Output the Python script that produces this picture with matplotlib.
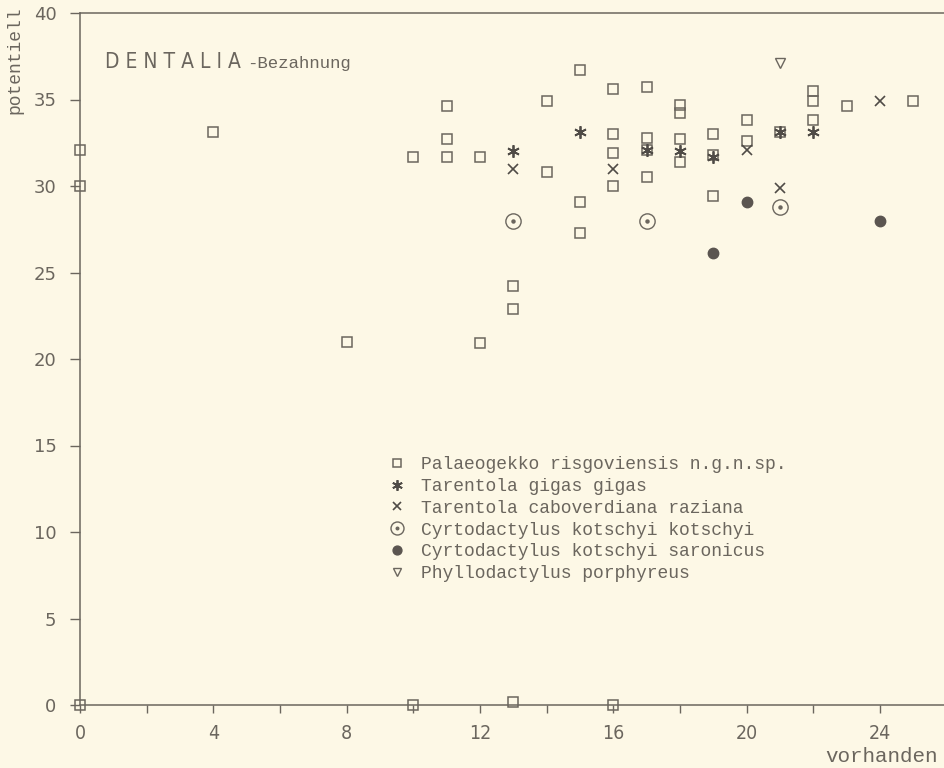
import matplotlib
matplotlib.use('Agg')
import matplotlib.pyplot as plt
from matplotlib.legend_handler import HandlerTuple

# tooth counts: x = vorhanden (present), y = potentiell (potential)
pal_x = [0, 10, 13, 16, 0, 0, 4, 8, 10, 11, 11, 11, 12, 12, 13, 13, 14, 14,
         15, 15, 15, 16, 16, 16, 16, 17, 17, 17, 17, 18, 18, 18, 18,
         19, 19, 19, 20, 20, 21, 22, 22, 22, 23, 25]
pal_y = [0, 0, 0.2, 0, 30.0, 32.1, 33.1, 21.0, 31.7, 34.6, 32.7, 31.7, 31.7, 20.9,
         24.2, 22.9, 34.9, 30.8, 36.7, 29.1, 27.3, 35.6, 33.0, 31.9, 30.0,
         35.7, 32.8, 32.1, 30.5, 34.7, 34.2, 32.7, 31.4,
         33.0, 31.8, 29.4, 33.8, 32.6, 33.1, 35.5, 34.9, 33.8, 34.6, 34.9]

gigas_x = [13, 15, 17, 18, 19, 21, 22]
gigas_y = [32.0, 33.1, 32.1, 32.0, 31.7, 33.1, 33.1]

cabo_x = [13, 16, 20, 21, 24]
cabo_y = [31.0, 31.0, 32.1, 29.9, 34.9]

kot_x = [13, 17, 21]
kot_y = [28.0, 28.0, 28.8]

saron_x = [19, 20, 24]
saron_y = [26.1, 29.1, 28.0]

phyl_x = [21]
phyl_y = [37.1]

labels = ['Palaeogekko risgoviensis n.g.n.sp.',
          'Tarentola gigas gigas',
          'Tarentola caboverdiana raziana',
          'Cyrtodactylus kotschyi kotschyi',
          'Cyrtodactylus kotschyi saronicus',
          'Phyllodactylus porphyreus']

bg = '#fdf8e6'
ink = '#6b665e'
dark = '#4f4b46'
mono = 'Liberation Mono'

fig = plt.figure(figsize=(9.45, 7.68), dpi=100, facecolor=bg)
ax = fig.add_axes([80 / 945, 63 / 768, 865 / 945, 692 / 768])
ax.set_facecolor(bg)
ax.set_xlim(0, 25.95)
ax.set_ylim(0, 40)

for s in ['left', 'bottom', 'top']:
    ax.spines[s].set_color(ink)
    ax.spines[s].set_linewidth(1.1)
ax.spines['right'].set_visible(False)

h_pal, = ax.plot(pal_x, pal_y, ls='none', marker='s', ms=6.5, mfc='none',
                 mec=ink, mew=1.1, clip_on=False)
h_gig, = ax.plot(gigas_x, gigas_y, ls='none', marker=(6, 2, 0), ms=9,
                 color=dark, mew=1.3, clip_on=False)
h_cab, = ax.plot(cabo_x, cabo_y, ls='none', marker='x', ms=7, color=dark,
                 mew=1.2, clip_on=False)
h_kot, = ax.plot(kot_x, kot_y, ls='none', marker='o', ms=11, mfc='none',
                 mec=ink, mew=1.0, clip_on=False)
h_kdot, = ax.plot(kot_x, kot_y, ls='none', marker='o', ms=2.2, color=ink,
                  clip_on=False)
h_sar, = ax.plot(saron_x, saron_y, ls='none', marker='o', ms=7.5, color='#5b5550',
                 clip_on=False)
h_phy, = ax.plot(phyl_x, phyl_y, ls='none', marker='v', ms=6.5, mfc='none',
                 mec=ink, mew=1.0, clip_on=False)

ax.set_yticks(range(0, 41, 5))
ax.set_xticks(range(0, 25, 4))
ax.set_xticks(range(2, 26, 4), minor=True)
ax.tick_params(axis='y', direction='out', length=7, width=1, colors=ink,
               labelsize=13, pad=10)
ax.tick_params(axis='x', which='both', direction='out', length=6, width=1,
               colors=ink, labelsize=14, pad=8)
for t in ax.get_xticklabels():
    t.set_fontstretch('condensed')

leg = ax.legend([h_pal, h_gig, h_cab, (h_kot, h_kdot), h_sar, h_phy], labels,
                handler_map={tuple: HandlerTuple(ndivide=1)},
                loc='upper left', bbox_to_anchor=(388 / 945, 1 - 456 / 768),
                bbox_transform=fig.transFigure, frameon=False,
                prop={'family': mono, 'size': 13}, labelcolor=ink,
                handlelength=1.0, handletextpad=0.85, labelspacing=0.27,
                borderpad=0, borderaxespad=0, markerscale=0.85)

fig.text(105 / 945, 1 - 68 / 768, 'D E N T A L I A', ha='left', va='baseline',
         fontsize=15, color=ink, fontstretch='condensed')
fig.text(247 / 945, 1 - 68 / 768, '-Bezahnung', ha='left', va='baseline',
         fontsize=12.5, color=ink, family=mono)
fig.text(15 / 945, 1 - 60 / 768, 'potentiell', rotation=90, ha='center',
         va='center', fontsize=13, color=ink, family=mono)
fig.text(938 / 945, 1 - 757 / 768, 'vorhanden', ha='right', va='center',
         fontsize=15, color=ink, family=mono)

fig.savefig('out.png', dpi=100, facecolor=bg)
